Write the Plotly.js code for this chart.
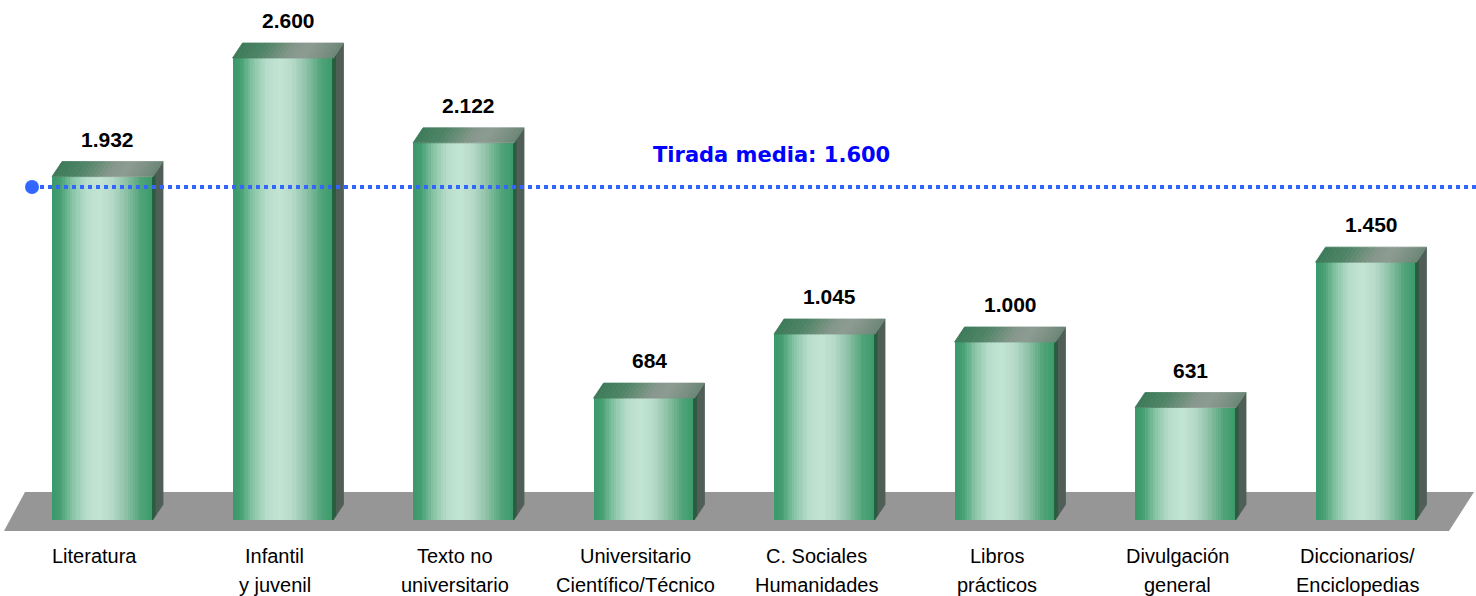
<!DOCTYPE html>
<html>
<head>
<meta charset="utf-8">
<script src="https://cdn.plot.ly/plotly-3.0.1.min.js"></script>
<style>
  html, body { margin: 0; padding: 0; background: #ffffff; }
  #chart { width: 1476px; height: 596px; }
</style>
</head>
<body>
<div id="chart"></div>
<script>
// ---------------- DATA ----------------
const categories = ["Literatura", "Infantil", "Texto no", "Universitario", "C. Sociales", "Libros", "Divulgación", "Diccionarios/"];
const categoriesLine2 = ["", "y juvenil", "universitario", "Científico/Técnico", "Humanidades", "prácticos", "general", "Enciclopedias"];
const tirada = [1932, 2600, 2122, 684, 1045, 1000, 631, 1450];
const tiradaMedia = 1600;
const tiradaMediaLabel = "Tirada media: ";

// ---------------- GEOMETRY / STYLE ----------------
const W = 1476, H = 596;
const pxPerCat = 180.5;      // pixels between category centres
const firstCatPx = 94;       // pixel x of first category centre
const zeroPx = 519.5;        // pixel y of value 0
const pxPerUnit = 0.1775;    // pixels per value unit

const xRange = [-firstCatPx / pxPerCat, (W - firstCatPx) / pxPerCat];
const yRange = [(zeroPx - H) / pxPerUnit, zeroPx / pxPerUnit];
const pxToX = p => xRange[0] + p / pxPerCat;
const pxToY = p => (zeroPx - p) / pxPerUnit;

const frontOffset = -42 / pxPerCat;
const frontWidth = 101 / pxPerCat;
const depthX = 10 / pxPerCat;
const depthY = 15 / pxPerUnit;

function hexToRgb(h) { return [1, 3, 5].map(i => parseInt(h.substr(i, 2), 16)); }
function gradient(stops, t) {
  for (let i = 0; i < stops.length - 1; i++) {
    const [t0, c0] = stops[i], [t1, c1] = stops[i + 1];
    if (t >= t0 && t <= t1) {
      const f = (t - t0) / (t1 - t0 || 1);
      const a = hexToRgb(c0), b = hexToRgb(c1);
      return 'rgb(' + a.map((v, k) => Math.round(v + (b[k] - v) * f)).join(',') + ')';
    }
  }
  return stops[stops.length - 1][1];
}
const frontStops = [[0, "#3a9869"], [0.08, "#459f72"], [0.2, "#88c4a6"], [0.34, "#b8ddcb"], [0.47, "#c3e4d4"], [0.6, "#b5d9c7"], [0.74, "#8ac0a4"], [0.88, "#50a379"], [1, "#3b9a69"]];
const topStops = [[0, "#3c7a59"], [0.25, "#4f8466"], [0.55, "#86978c"], [0.7, "#8d9b93"], [0.88, "#7a8f82"], [1, "#6b8676"]];

const fmt = n => String(n).replace(/\B(?=(\d{3})+(?!\d))/g, '.');
const idx = tirada.map((_, i) => i);

const traces = [];

// side faces (two tones)
function sidePoly(f0, f1) {
  const xs = [], ys = [];
  idx.forEach(i => {
    const xr = i + frontOffset + frontWidth;
    const a = xr + depthX * f0, b = xr + depthX * f1;
    const v = tirada[i];
    xs.push(a, b, b, a, a, null);
    ys.push(depthY * f0, depthY * f1, v + depthY * f1, v + depthY * f0, depthY * f0, null);
  });
  return { xs, ys };
}
[[0, 0.3, '#2f5a42'], [0.3, 1, '#4f5f57']].forEach(([f0, f1, c]) => {
  const p = sidePoly(f0, f1);
  traces.push({
    type: 'scatter', mode: 'lines', fill: 'toself', x: p.xs, y: p.ys,
    fillcolor: c, line: { width: 0.8, color: c }, hoverinfo: 'skip', showlegend: false
  });
});

// front faces as gradient slices
const N = 40;
const sw = frontWidth / N;
for (let k = 0; k < N; k++) {
  const t = (k + 0.5) / N;
  traces.push({
    type: 'bar', x: idx, y: tirada, base: 0,
    offset: frontOffset + k * sw,
    width: k < N - 1 ? sw * 1.6 : sw,
    marker: { color: gradient(frontStops, t), line: { width: 0 } },
    hoverinfo: 'skip', showlegend: false
  });
}
// dark right edge of the front face
traces.push({
  type: 'bar', x: idx, y: tirada, base: 0,
  offset: frontOffset + frontWidth - 1.5 / pxPerCat, width: 1.5 / pxPerCat,
  marker: { color: '#22663f', line: { width: 0 } },
  hoverinfo: 'skip', showlegend: false
});

// top faces as gradient slices
const NT = 24;
for (let k = 0; k < NT; k++) {
  const t0 = k / NT, t1 = (k + 1) / NT;
  const xs = [], ys = [];
  idx.forEach(i => {
    const xl = i + frontOffset;
    const a = xl + frontWidth * t0, b = xl + frontWidth * t1;
    const v = tirada[i];
    xs.push(a, b, b + depthX, a + depthX, a, null);
    ys.push(v, v, v + depthY, v + depthY, v, null);
  });
  const c = gradient(topStops, (t0 + t1) / 2);
  traces.push({
    type: 'scatter', mode: 'lines', fill: 'toself', x: xs, y: ys,
    fillcolor: c, line: { width: 0.8, color: c }, hoverinfo: 'skip', showlegend: false
  });
}

// annotations
const labelFont = { family: 'Liberation Sans, Arial, sans-serif', size: 20, color: '#000000' };
const annotations = [];
idx.forEach(i => {
  annotations.push({
    x: i + frontOffset + frontWidth / 2 + depthX / 2, y: tirada[i] + depthY,
    xref: 'x', yref: 'y', text: '<b>' + fmt(tirada[i]) + '</b>',
    showarrow: false, yanchor: 'bottom', yshift: 9,
    font: { family: 'Liberation Sans, Arial, sans-serif', size: 21, color: '#000000' }
  });
  annotations.push({
    x: i, y: 1 - 556 / H, xref: 'x', yref: 'paper', text: categories[i],
    showarrow: false, yanchor: 'middle', font: labelFont
  });
  if (categoriesLine2[i]) {
    annotations.push({
      x: i, y: 1 - 585 / H, xref: 'x', yref: 'paper', text: categoriesLine2[i],
      showarrow: false, yanchor: 'middle', font: labelFont
    });
  }
});
annotations.push({
  x: 771 / W, y: 1 - 155 / H, xref: 'paper', yref: 'paper',
  text: '<b>' + tiradaMediaLabel + fmt(tiradaMedia) + '</b>',
  showarrow: false, xanchor: 'center', yanchor: 'middle',
  font: { family: 'DejaVu Sans, Verdana, sans-serif', size: 21, color: '#0000ff' }
});

// floor (decorative, below the bars)
const floorPx = [[25, 492], [1474, 492], [1449, 531], [4, 531]];
const floorPath = 'M' + floorPx.map(p => pxToX(p[0]) + ',' + pxToY(p[1])).join(' L') + ' Z';

const lineY = 1 - 187 / H;
const shapes = [
  { type: 'path', xref: 'x', yref: 'y', path: floorPath, fillcolor: '#969696',
    line: { width: 0 }, layer: 'below' },
  { type: 'line', xref: 'paper', yref: 'paper', x0: 32 / W, x1: 1, y0: lineY, y1: lineY,
    line: { color: '#3366ff', width: 4, dash: 'dot' }, layer: 'above' },
  { type: 'circle', xref: 'paper', yref: 'paper', xsizemode: 'pixel', ysizemode: 'pixel',
    xanchor: 32 / W, yanchor: lineY, x0: -7, x1: 7, y0: -7, y1: 7,
    fillcolor: '#3366ff', line: { width: 0 }, layer: 'above' }
];

const layout = {
  width: W, height: H,
  margin: { l: 0, r: 0, t: 0, b: 0, pad: 0 },
  paper_bgcolor: '#ffffff', plot_bgcolor: 'rgba(0,0,0,0)',
  barmode: 'overlay', bargap: 0,
  xaxis: { range: xRange, visible: false, fixedrange: true },
  yaxis: { range: yRange, visible: false, fixedrange: true },
  showlegend: false,
  annotations, shapes
};

Plotly.newPlot('chart', traces, layout, { displayModeBar: false, staticPlot: true });
</script>
</body>
</html>
